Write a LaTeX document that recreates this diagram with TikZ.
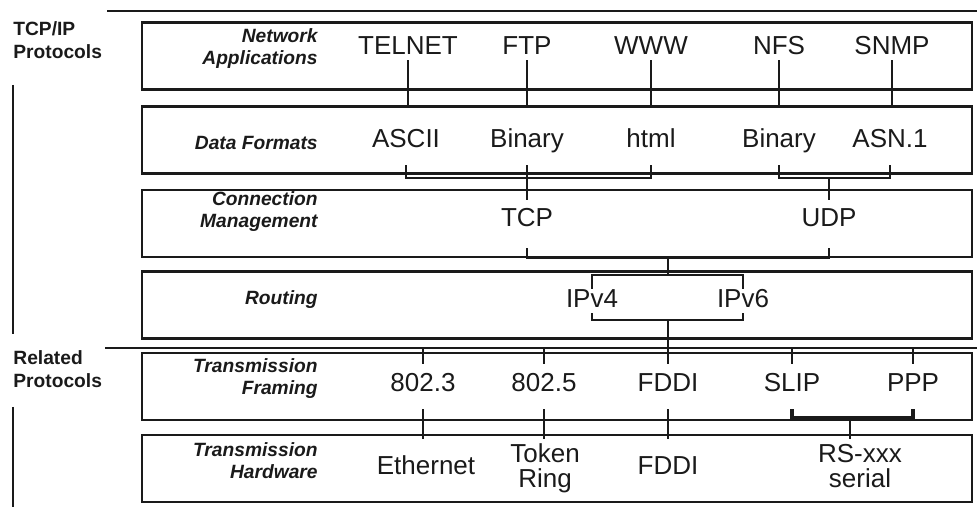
\documentclass[tikz,border=0pt]{standalone}
\usepackage{fontspec}
\setmainfont{Liberation Sans}
\usetikzlibrary{calc}
\definecolor{ink}{HTML}{1A1A1A}
\tikzset{
  layer/.style={rectangle, draw=ink, line width=1.2pt, minimum width=415pt, minimum height=33.5pt, inner sep=0pt},
  tag/.style={anchor=east, align=right, inner sep=0pt, text=ink, font=\bfseries\itshape\fontsize{9.6}{11}\selectfont},
  proto/.style={inner sep=0pt, text=ink, text height=9.4pt, text depth=2.6pt, font=\fontsize{13}{13}\selectfont},
  proto2/.style={inner sep=0pt, text=ink, align=center, font=\fontsize{13}{12.5}\selectfont},
  side/.style={anchor=west, align=left, inner sep=0pt, text=ink, font=\bfseries\fontsize{9.6}{11.5}\selectfont},
  tick/.style={draw=ink, line width=1pt},
  rule/.style={draw=ink, line width=1.3pt},
}

\begin{document}
\begin{tikzpicture}[x=0.5pt, y=-0.5pt]
  \useasboundingbox (0,0) rectangle (977,507);
  % layers
  \node[layer] (app)  at (557,56)    {};
  \node[layer] (fmt)  at (557,140)   {};
  \node[layer] (con)  at (557,223.5) {};
  \node[layer] (rout) at (557,305)   {};
  \node[layer] (fram) at (557,386.5) {};
  \node[layer] (hw)   at (557,468.5) {};
  \node[tag] (appL)  at (318,49)  {Network\\Applications};
  \node[tag] (fmtL)  at (318,143) {Data Formats};
  \node[tag] (conL)  at (318,212) {Connection\\Management};
  \node[tag] (routL) at (318,300) {Routing};
  \node[tag] (framL) at (318,379) {Transmission\\Framing};
  \node[tag] (hwL)   at (318,461) {Transmission\\Hardware};
  % side labels and rules
  \coordinate (topL) at (107,11);  \coordinate (topR) at (977,11);
  \coordinate (busL) at (105,348); \coordinate (busR) at (977,348);
  \coordinate (botL) at (13,507);
  \draw[rule] (topL) -- (topR);
  \draw[rule] (busL) -- (busR);
  \node[side] (tcpip) at (13,40)  {TCP/IP\\Protocols};
  \node[side] (rel)   at (13,369) {Related\\Protocols};
  \draw[rule] ($(tcpip.south west)+(0,26)$) -- ($(rel.north west)+(0,-16)$);
  \draw[rule] ($(rel.south west)+(0,19)$) -- (botL);
  % protocols
  \node[proto] (telnet) at (408,48) {TELNET};
  \node[proto] (ftp)    at (527,48) {FTP};
  \node[proto] (www)    at (651,48) {WWW};
  \node[proto] (nfs)    at (779,48) {NFS};
  \node[proto] (snmp)   at (892,48) {SNMP};
  \node[proto] (ascii)  at (406,141) {ASCII};
  \node[proto] (binA)   at (527,141) {Binary};
  \node[proto] (html)   at (651,141) {html};
  \node[proto] (binB)   at (779,141) {Binary};
  \node[proto] (asn)    at (890,141) {ASN.1};
  \node[proto] (tcp)    at (527,220) {TCP};
  \node[proto] (udp)    at (829,220) {UDP};
  \node[proto] (ipv4)   at (592,301) {IPv4};
  \node[proto] (ipv6)   at (743,301) {IPv6};
  \node[proto] (e8023)  at (423,385) {802.3};
  \node[proto] (e8025)  at (544,385) {802.5};
  \node[proto] (fddiA)  at (668,385) {FDDI};
  \node[proto] (slip)   at (792,385) {SLIP};
  \node[proto] (ppp)    at (913,385) {PPP};
  \node[proto] (ether)  at (426,468) {Ethernet};
  \node[proto2] (token) at (545,468) {Token\\Ring};
  \node[proto] (fddiB)  at (668,468) {FDDI};
  \node[proto2] (rs)    at (860,466) {RS-xxx\\serial};
  % links
  \foreach \a in {telnet,ftp,www,nfs,snmp}
    \draw[tick] (\a.south) -- ($(\a |- fmt.north)+(0,3)$);
  \coordinate (fmtjoin) at (668,178);
  \draw[tick] ($(ascii.south)+(0,12)$) -- (ascii |- fmtjoin) -- (html |- fmtjoin) -- ($(html.south)+(0,12)$);
  \draw[tick] ($(binB.south)+(0,12)$) -- (binB |- fmtjoin) -- (asn |- fmtjoin) -- ($(asn.south)+(0,12)$);
  \draw[tick] ($(binA.south)+(0,12)$) -- ($(tcp.north)+(0,-8)$);
  \draw[tick] (udp |- fmtjoin) -- ($(udp.north)+(0,-8)$);
  \coordinate (conjoin) at (668,258);
  \coordinate (iptop) at (668,275);
  \coordinate (ipbot) at (668,320);
  \draw[tick] ($(tcp.south)+(0,16)$) -- (tcp |- conjoin) -- (udp |- conjoin) -- ($(udp.south)+(0,16)$);
  \draw[tick] (conjoin) -- (iptop);
  \draw[tick] (ipv4.north) |- (iptop) -| (ipv6.north);
  \draw[tick] (ipv4.south) |- (ipbot) -| (ipv6.south);
  \draw[tick] (ipbot) -- ($(fddiA.north)+(0,-9)$);
  \foreach \a in {e8023,e8025,slip,ppp}
    \draw[tick] (\a |- busL) -- ($(\a.north)+(0,-9)$);
  \foreach \a in {e8023,e8025,fddiA}
    \draw[tick] ($(\a |- fram.south)+(0,-12)$) -- ($(\a |- hw.north)+(0,5)$);
  \coordinate (serjoin) at (850,418);
  \draw[tick, line width=1.6pt] ($(slip |- fram.south)+(0,-12)$) -- (slip |- serjoin) -- (ppp |- serjoin) -- ($(ppp |- fram.south)+(0,-12)$);
  \draw[tick] (serjoin) -- ($(serjoin |- hw.north)+(0,5)$);
\end{tikzpicture}
\end{document}
